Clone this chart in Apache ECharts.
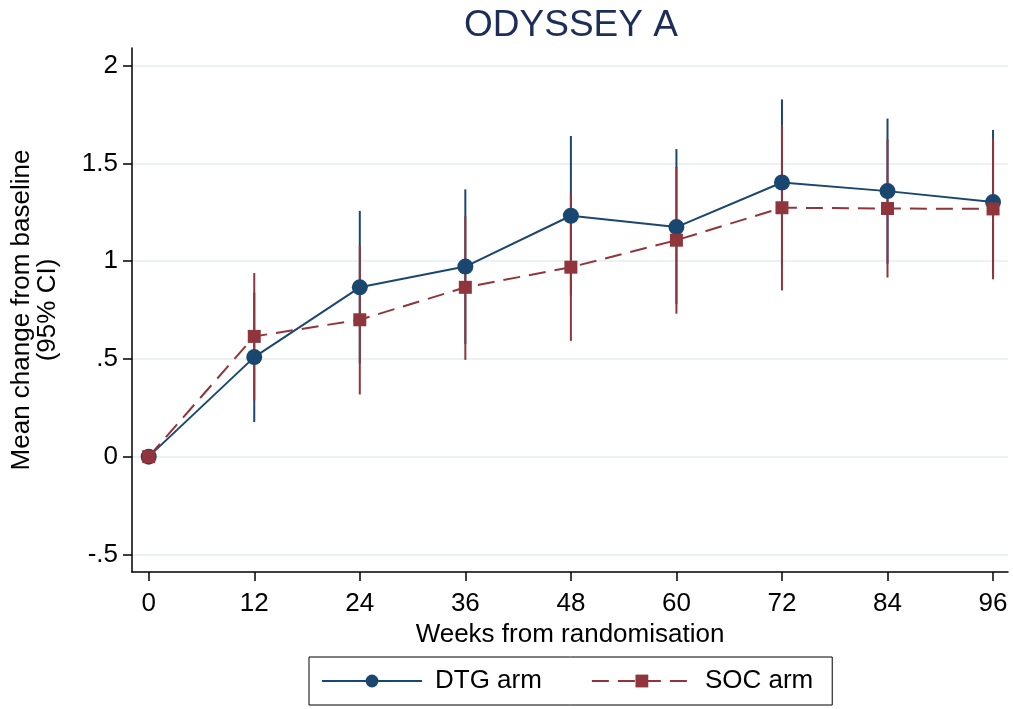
<!DOCTYPE html>
<html>
<head>
<meta charset="utf-8">
<script src="https://cdn.jsdelivr.net/npm/echarts@6/dist/echarts.min.js"></script>
<style>
  html, body { margin: 0; padding: 0; background: #fff; }
  #chart { width: 1013px; height: 709px; }
</style>
</head>
<body>
<div id="chart"></div>
<script>
const weeks = [0, 12, 24, 36, 48, 60, 72, 84, 96];
const dtgMean = [0, 0.509, 0.866, 0.972, 1.232, 1.174, 1.402, 1.358, 1.302];
const dtgLow  = [0, 0.177, 0.477, 0.577, 0.824, 0.78, 0.977, 0.987, 0.925];
const dtgHigh = [0, 0.839, 1.257, 1.367, 1.64, 1.573, 1.827, 1.729, 1.671];
const socMean = [0, 0.615, 0.70, 0.866, 0.969, 1.107, 1.273, 1.269, 1.267];
const socLow  = [0, 0.288, 0.318, 0.495, 0.592, 0.731, 0.85, 0.916, 0.907];
const socHigh = [0, 0.939, 1.08, 1.23, 1.344, 1.482, 1.694, 1.623, 1.627];
const yTicks = [-0.5, 0, 0.5, 1, 1.5, 2];

const BLUE = "#1a476f";
const RED = "#90353b";
const FONT = "Liberation Sans, Arial, sans-serif";

const chart = echarts.init(document.getElementById("chart"));

function ciSeries(name, low, high, color) {
    return {
        name: name,
        type: "custom",
        silent: true,
        z: 2,
        data: weeks.map((w, i) => [w, low[i], high[i]]),
        renderItem: (params, api) => {
            const a = api.coord([api.value(0), api.value(1)]);
            const b = api.coord([api.value(0), api.value(2)]);
            return {
                type: "line",
                shape: { x1: a[0], y1: a[1], x2: b[0], y2: b[1] },
                style: { stroke: color, lineWidth: 2 },
            };
        },
    };
}

const option = {
    backgroundColor: "#fff",
    animation: false,
    textStyle: { fontFamily: FONT },
    title: {
        text: "ODYSSEY A",
        left: 566,
        textAlign: "center",
        top: 2,
        textStyle: { fontFamily: FONT, fontSize: 37, fontWeight: "normal", color: "#1c2d59" },
    },
    grid: { left: 132, right: 5, top: 48, bottom: 137, outerBoundsMode: "none" },
    legend: {
        left: 309,
        top: 657,
        width: 523,
        padding: [11, 19, 11, 12],
        borderColor: "#000",
        borderWidth: 1,
        itemWidth: 100,
        itemHeight: 16,
        itemGap: 49,
        data: ["DTG arm", "SOC arm"],
        textStyle: { fontFamily: FONT, fontSize: 26, color: "#000", padding: [0, 0, 0, 8] },
    },
    xAxis: {
        type: "value",
        min: -1.9,
        max: 97.7,
        name: "Weeks from randomisation",
        nameLocation: "middle",
        nameGap: 48,
        nameTextStyle: { fontFamily: FONT, fontSize: 26, color: "#000" },
        axisLine: { onZero: false, lineStyle: { color: "#000", width: 1.5 } },
        axisTick: { customValues: weeks, length: 9, lineStyle: { color: "#000", width: 1.5 } },
        axisLabel: { customValues: weeks, fontSize: 26, color: "#000", margin: 19 },
        splitLine: { show: false },
    },
    yAxis: {
        type: "value",
        min: -0.59,
        max: 2.09,
        name: "Mean change from baseline\n(95% CI)",
        nameLocation: "middle",
        nameGap: 71,
        nameTextStyle: { fontFamily: FONT, fontSize: 26, color: "#000", lineHeight: 26 },
        axisLine: { show: true, onZero: false, lineStyle: { color: "#000", width: 1.5 } },
        axisTick: { show: true, customValues: yTicks, length: 9, lineStyle: { color: "#000", width: 1.5 } },
        axisLabel: {
            customValues: yTicks,
            fontSize: 26,
            color: "#000",
            margin: 14,
            formatter: (v) => String(v).replace(/^(-?)0\./, "$1."),
        },
        splitLine: { show: true, lineStyle: { color: "#eaf2f3", width: 2 } },
    },
    series: [
        ciSeries("DTG CI", dtgLow, dtgHigh, BLUE),
        ciSeries("SOC CI", socLow, socHigh, RED),
        {
            name: "DTG arm",
            type: "line",
            z: 3,
            data: weeks.map((w, i) => [w, dtgMean[i]]),
            symbol: "circle",
            symbolSize: 16,
            itemStyle: { color: BLUE },
            lineStyle: { color: BLUE, width: 2 },
        },
        {
            name: "SOC arm",
            type: "line",
            z: 4,
            data: weeks.map((w, i) => [w, socMean[i]]),
            symbol: "rect",
            symbolSize: 13,
            itemStyle: { color: RED },
            lineStyle: { color: RED, width: 2, type: [17, 9] },
        },
    ],
};

chart.setOption(option);
</script>
</body>
</html>
